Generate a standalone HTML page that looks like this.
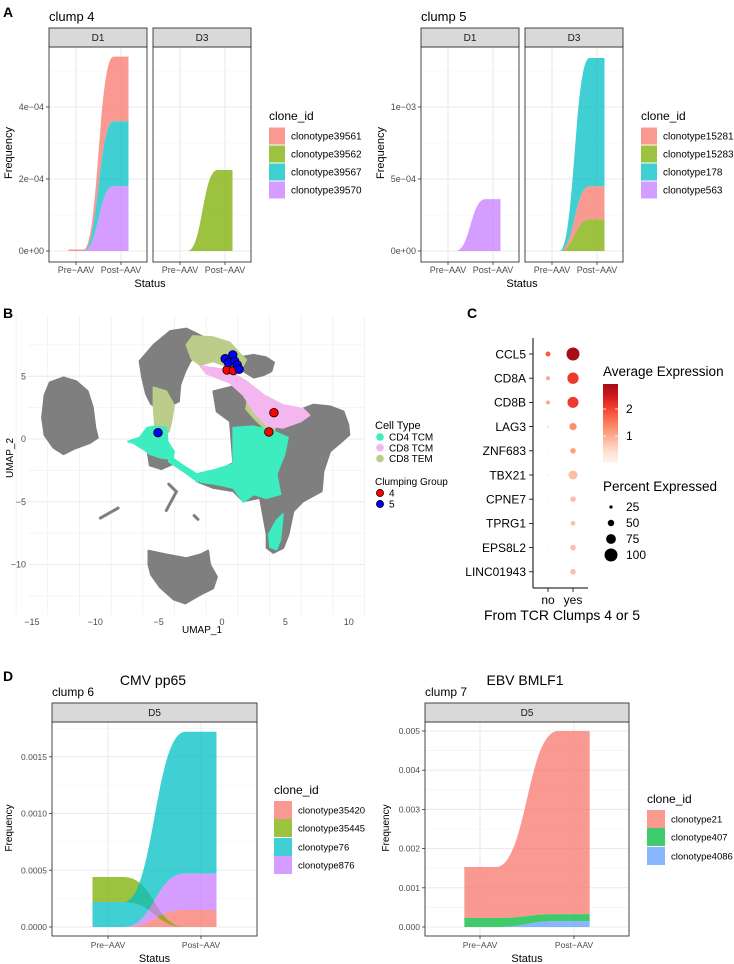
<!DOCTYPE html>
<html><head><meta charset="utf-8"><style>
html,body{margin:0;padding:0;background:#fff;}
svg{display:block;font-family:"Liberation Sans",sans-serif;}
</style></head><body>
<svg id="fig" width="734" height="964" viewBox="0 0 734 964" xmlns="http://www.w3.org/2000/svg"></svg>
<script>
// ---------- DATA ----------
const c4Clones = ['clonotype39561','clonotype39562','clonotype39567','clonotype39570'];
const c4D1Pre = [0.000004,0,0,0];
const c4D1Post = [0.00018,0,0.00018,0.00018];
const c4D3Pre = [0,0,0,0];
const c4D3Post = [0,0.000225,0,0];
const c4Order = [3,2,1,0];
const c4Ticks = [0,0.0002,0.0004];
const c4TickLabels = ['0e+00','2e\u221204','4e\u221204'];

const c5Clones = ['clonotype15281','clonotype15283','clonotype178','clonotype563'];
const c5D1Pre = [0,0,0,0];
const c5D1Post = [0,0,0,0.00036];
const c5D3Pre = [0,0,0,0];
const c5D3Post = [0.00023,0.00022,0.00089,0];
const c5Order = [3,1,0,2];
const c5Ticks = [0,0.0005,0.001];
const c5TickLabels = ['0e+00','5e\u221204','1e\u221203'];

const c6Clones = ['clonotype35420','clonotype35445','clonotype76','clonotype876'];
const c6Pre = [0,0.00022,0.00022,0];
const c6Post = [0.00015,0,0.00125,0.00032];
const c6PreOrder = [0,3,2,1];
const c6PostOrder = [1,0,3,2];
const c6Ticks = [0,0.0005,0.001,0.0015];
const c6TickLabels = ['0.0000','0.0005','0.0010','0.0015'];

const c7Clones = ['clonotype21','clonotype407','clonotype4086'];
const c7Pre = [0.0013,0.00023,0];
const c7Post = [0.00467,0.00018,0.00015];
const c7Order = [2,1,0];
const c7Ticks = [0,0.001,0.002,0.003,0.004,0.005];
const c7TickLabels = ['0.000','0.001','0.002','0.003','0.004','0.005'];

const statusCats = ['Pre\u2212AAV','Post\u2212AAV'];

const genes = ['CCL5','CD8A','CD8B','LAG3','ZNF683','TBX21','CPNE7','TPRG1','EPS8L2','LINC01943'];
const groups = ['no','yes'];
const pctNo = [38,30,30,15,10,12,9,8,9,8];
const pctYes = [100,87,85,56,43,69,43,36,43,43];
const avgNo = [1.8,1.1,1.1,0.6,0.4,0.4,0.4,0.4,0.4,0.4];
const avgYes = [2.93,2.1,2.1,1.3,1.1,0.8,0.8,0.8,0.8,0.8];
const pctLegend = [25,50,75,100];

const umapTicksX = [-15,-10,-5,0,5,10];
const umapTicksY = [5,0,-5,-10];
const clump4Pts = [[3.7,0.56],[4.1,2.1],[0.4,5.5],[0.9,5.45]];
const clump5Pts = [[-5.05,0.5],[0.25,6.4],[0.85,6.7],[0.5,6.1],[1.0,6.2],[1.2,5.9],[1.35,5.55]];
const blobGray = [
 [[-13.6,4.5],[-12.5,4.9],[-11.5,4.6],[-10.6,3.8],[-10.2,2.5],[-10.0,0.9],[-9.8,0.1],[-10.4,-0.3],[-11.7,-0.8],[-12.5,-1.2],[-13.3,-0.7],[-14.0,0.3],[-14.2,1.7],[-14.0,3.5]],
 [[-5.8,-8.9],[-4.4,-9.2],[-2.8,-9.5],[-1.7,-9.2],[-1.1,-8.9],[-0.95,-10.0],[-0.4,-11.0],[-0.7,-11.9],[-1.7,-12.4],[-2.9,-13.1],[-3.8,-12.8],[-4.9,-11.8],[-5.6,-10.8],[-5.8,-10.0]],
 [[-6.5,6.2],[-5.4,7.5],[-4.1,8.6],[-2.8,8.8],[-2.0,8.4],[-1.2,8.0],[-0.7,7.8],[-0.4,7.2],[-1.7,7.0],[-2.5,6.2],[-2.9,5.4],[-3.3,4.3],[-3.4,3.0],[-4.2,2.6],[-5.0,2.4],[-5.6,2.8],[-6.0,3.6],[-6.3,4.9]],
 [[1.4,6.5],[2.5,6.7],[3.5,6.5],[4.1,6.1],[3.9,5.4],[3.3,5.1],[2.5,4.9],[1.7,5.4]],
 [[-0.68,3.79],[0.89,4.19],[2.08,3.79],[3.26,2.73],[4.84,2.33],[6.16,2.33],[7.21,2.73],[8.53,2.6],[9.58,2.2],[9.97,1.14],[10.05,0.34],[9.32,-0.32],[8.53,-0.98],[8.0,-2.57],[7.87,-4.16],[6.42,-4.96],[5.63,-5.76],[5.24,-7.61],[4.84,-8.67],[4.05,-9.07],[3.53,-8.67],[3.53,-7.61],[3.0,-4.69],[1.68,-4.96],[0.89,-4.16],[-0.68,-3.9],[-2.0,-3.37],[-1.74,-2.84],[-0.42,-2.57],[0.89,-1.91],[0.76,-0.19],[0.63,1.41],[-0.42,2.2]],
 [[-5.9,-0.8],[-4.2,-0.9],[-3.9,-2.0],[-4.8,-2.4],[-5.7,-2.1]]
];
const blobGreen = [
 [[-5.4,4.1],[-4.4,3.8],[-3.8,2.7],[-4.0,1.4],[-4.2,0.6],[-5.2,0.3],[-5.3,1.4],[-5.4,2.7]],
 [[-2.3,8.2],[-0.7,8.1],[0.6,7.7],[1.4,6.8],[1.9,6.3],[1.4,5.4],[0.4,5.8],[-0.7,6.2],[-1.7,5.9],[-2.4,6.4],[-2.8,7.5]],
 [[2.1,3.5],[3.3,2.7],[4.3,1.4],[4.1,0.6],[3.3,0.9],[2.5,1.7],[1.9,2.4]]
];
const blobPink = [
 [[-1.7,5.8],[0.4,5.5],[1.9,4.6],[3.3,3.5],[4.8,2.7],[6.4,2.4],[6.9,1.9],[6.2,1.4],[4.8,0.9],[3.5,1.1],[2.5,2.2],[1.7,3.5],[0.6,4.5],[-1.2,5.2]]
];
const blobCyan = [
 [[0.9,0.9],[2.5,1.0],[4.1,0.6],[5.2,0.1],[4.9,-1.3],[4.3,-2.8],[4.6,-4.4],[3.5,-4.7],[2.5,-4.4],[1.7,-5.0],[0.9,-3.9],[-0.4,-3.6],[-1.7,-3.4],[-2.0,-2.8],[-0.7,-2.5],[0.9,-2.0],[0.9,-0.7]],
 [[-5.9,0.9],[-5.2,1.0],[-4.4,0.9],[-4.3,-0.2],[-3.8,-1.0],[-3.9,-1.6],[-4.8,-1.5],[-5.7,-1.2],[-5.9,-1.0],[-7.0,-0.3],[-7.4,-0.2],[-6.5,0.1]],
 [[-4.1,-1.4],[-2.8,-2.3],[-1.7,-3.0],[-1.9,-3.4],[-3.0,-2.6],[-4.2,-1.8]],
 [[4.3,-6.5],[4.8,-6.0],[4.6,-8.0],[4.3,-8.8],[3.8,-8.6],[3.7,-7.6]]
];
const sticks = [[[-9.6,-6.3],[-8.2,-5.5]],[[-4.2,-3.6],[-3.6,-4.2],[-4.4,-5.7]],[[-2.2,-6.1],[-1.9,-6.4]]];

// ---------- HELPERS ----------
const NS='http://www.w3.org/2000/svg';
const svg=document.getElementById('fig');
function mk(parent,tag,attrs,text){const e=document.createElementNS(NS,tag);for(const k in attrs)e.setAttribute(k,attrs[k]);if(text!==undefined)e.textContent=text;parent.appendChild(e);return e;}
function txt(parent,x,y,s,size,anchor,fill,extra){const a={x:x,y:y,'font-size':size,'text-anchor':anchor||'start',fill:fill||'#000'};if(extra)for(const k in extra)a[k]=extra[k];return mk(parent,'text',a,s);}
const pal4=['#F8766D','#7CAE00','#00BFC4','#C77CFF'];
const pal3=['#F8766D','#00BA38','#619CFF'];

function stackOf(vals,order){const lo=[],hi=[];let acc=0;order.forEach(i=>{lo[i]=acc;acc+=vals[i];hi[i]=acc;});return {lo,hi};}

function panelFrame(g,p){
  const bg=mk(g,'rect',{x:p.x,y:p.plotY,width:p.w,height:p.plotH,fill:'#fff'});
  
  
  p.minor.forEach(v=>{const y=p.y0-v*p.k;if(y>p.plotY&&y<p.plotY+p.plotH){const l=mk(g,'line',{x1:p.x,x2:p.x+p.w,y1:y,y2:y,stroke:'#F2F2F2','stroke-width':0.6});}});
  p.ticks.forEach(v=>{const y=p.y0-v*p.k;const l=mk(g,'line',{x1:p.x,x2:p.x+p.w,y1:y,y2:y,stroke:'#EBEBEB','stroke-width':1.1});});
  [p.xPre,p.xPost].forEach(x=>{const l=mk(g,'line',{x1:x,x2:x,y1:p.plotY,y2:p.plotY+p.plotH,stroke:'#EBEBEB','stroke-width':1.1});});
}
function panelBorder(g,p){
  const b=mk(g,'rect',{x:p.x,y:p.plotY,width:p.w,height:p.plotH,fill:'none',stroke:'#333','stroke-width':0.9});
  
  
  const s=mk(g,'rect',{x:p.x,y:p.stripY,width:p.w,height:p.plotY-p.stripY,fill:'#D9D9D9',stroke:'#333','stroke-width':0.9});
  
  
  const st=txt(g,p.x+p.w/2,(p.stripY+p.plotY)/2+3.5,p.label,p.stripSize||10,'middle','#1A1A1A');
  
  
  const bot=p.plotY+p.plotH;
  [p.xPre,p.xPost].forEach((x,i)=>{mk(g,'line',{x1:x,x2:x,y1:bot,y2:bot+3,stroke:'#333','stroke-width':0.8});
    const t=txt(g,x,bot+(p.xlabOff||11),statusCats[i],p.tickSize||9,'middle','#4D4D4D');
    
    });
  if(p.showY){p.ticks.forEach((v,i)=>{const y=p.y0-v*p.k;mk(g,'line',{x1:p.x-3,x2:p.x,y1:y,y2:y,stroke:'#333','stroke-width':0.8});
    const t=txt(g,p.x-5,y+3,p.tickLabels[i],p.tickSize||9,'end','#4D4D4D');
    
    });}
}
function flows(g,p,pre,post,preOrder,postOrder,colors,names){
  const a=stackOf(pre,preOrder),b=stackOf(post,postOrder);
  const w=(p.xPost-p.xPre)/6;const x0=p.xPre+w,x1=p.xPost-w,xm=(x0+x1)/2;
  const Y=v=>p.y0-v*p.k;
  pre.forEach((_,i)=>{
    if(pre[i]===0&&post[i]===0)return;
    const d='M'+(p.xPre-w)+','+Y(a.lo[i])+' L'+x0+','+Y(a.lo[i])+' C'+xm+','+Y(a.lo[i])+' '+xm+','+Y(b.lo[i])+' '+x1+','+Y(b.lo[i])+' L'+(p.xPost+w)+','+Y(b.lo[i])+' L'+(p.xPost+w)+','+Y(b.hi[i])+' L'+x1+','+Y(b.hi[i])+' C'+xm+','+Y(b.hi[i])+' '+xm+','+Y(a.hi[i])+' '+x0+','+Y(a.hi[i])+' L'+(p.xPre-w)+','+Y(a.hi[i])+' Z';
    const f=mk(g,'path',{d:d,fill:colors[i],'fill-opacity':0.75});
    
    
  });
}
function legend(g,x,titleY,rowYs,colors,names,keyW,keyH,labSize){
  const t=txt(g,x,titleY+4,'clone_id',12,'start','#000');
  
  
  names.forEach((n,i)=>{
    const r=mk(g,'rect',{x:x,y:rowYs[i]-keyH/2,width:keyW,height:keyH,fill:colors[i],'fill-opacity':0.75});
    
    
    const l=txt(g,x+keyW+6,rowYs[i]+3.5,n,labSize,'start','#000');
    
    
  });
}
function label(g,x,y,s,size,anchor,weight,name){const t=txt(g,x,y,s,size,anchor,'#000',weight?{'font-weight':weight}:null);return t;}
function vlabel(g,x,y,s,size,name){const t=mk(g,'text',{x:0,y:0,'font-size':size,'text-anchor':'middle',fill:'#000',transform:'translate('+x+','+y+') rotate(-90)'},s);}

// ---------- PANEL A ----------
const gA=mk(svg,'g',{});


label(gA,3,17,'A',14,'start','bold','panel-letter-a');
function clumpA(ox,title,facets,ticks,tickLabels,k,minor,clones,legX){
  label(gA,ox,21,title,13,'start',null,'clump-title');
  facets.forEach((f,fi)=>{
    const p={x:f.x,w:98,stripY:28,plotY:47,plotH:215,label:f.label,y0:251,k:k,ticks:ticks,minor:minor,xPre:f.x+27,xPost:f.x+72,showY:fi===0,tickLabels:tickLabels};
    panelFrame(gA,p);flows(gA,p,f.pre,f.post,f.order,f.order,pal4,clones);panelBorder(gA,p);
  });
  vlabel(gA,ox-37,153,'Frequency',11,'y-axis-title');
  label(gA,(facets[0].x+facets[1].x+98)/2,287,'Status',11,'middle',null,'x-axis-title');
  legend(gA,legX,116,[136,154,172,190],pal4,clones,16,17,10);
}
clumpA(49,'clump 4',[{x:49,label:'D1',pre:c4D1Pre,post:c4D1Post,order:c4Order},{x:153,label:'D3',pre:c4D3Pre,post:c4D3Post,order:c4Order}],c4Ticks,c4TickLabels,360000,[0.0001,0.0003,0.0005],c4Clones,269);
clumpA(421,'clump 5',[{x:421,label:'D1',pre:c5D1Pre,post:c5D1Post,order:c5Order},{x:525,label:'D3',pre:c5D3Pre,post:c5D3Post,order:c5Order}],c5Ticks,c5TickLabels,144000,[0.00025,0.00075,0.00125],c5Clones,641);

// ---------- PANEL B (UMAP) ----------
const gB=mk(svg,'g',{});


label(gB,3,318,'B',14,'start','bold','panel-letter-b');
const ux=v=>222+v*12.67, uy=v=>439-v*12.55;
for(let v=-16.25;v<=11.5;v+=2.5){const l=mk(gB,'line',{x1:ux(v),x2:ux(v),y1:315,y2:615,stroke:'#EBEBEB','stroke-width':(Math.abs(v%5)<0.01)?1:0.6});}
for(let v=-12.5;v<=7.5;v+=2.5){const l=mk(gB,'line',{x1:28,x2:364,y1:uy(v),y2:uy(v),stroke:'#EBEBEB','stroke-width':(Math.abs(v%5)<0.01)?1:0.6});}
function poly(pts,fill,name){const d=pts.map((p,i)=>(i?'L':'M')+ux(p[0]).toFixed(1)+','+uy(p[1]).toFixed(1)).join(' ')+'Z';const e=mk(gB,'path',{d:d,fill:fill,stroke:fill,'stroke-width':2,'stroke-linejoin':'round'});}
blobGray.forEach(p=>poly(p,'#7F7F7F','umap-cluster-gray'));
sticks.forEach(s=>{const e=mk(gB,'polyline',{points:s.map(p=>ux(p[0])+','+uy(p[1])).join(' '),fill:'none',stroke:'#7F7F7F','stroke-width':3,'stroke-linecap':'round'});});
blobGreen.forEach(p=>poly(p,'#BCCC8A','umap-cd8-tem-region'));
blobPink.forEach(p=>poly(p,'#F3B6EF','umap-cd8-tcm-region'));
blobCyan.forEach(p=>poly(p,'#3DEDC0','umap-cd4-tcm-region'));
clump4Pts.forEach(p=>{const c=mk(gB,'circle',{cx:ux(p[0]),cy:uy(p[1]),r:4.3,fill:'#FF0000',stroke:'#000','stroke-width':0.8});});
clump5Pts.forEach(p=>{const c=mk(gB,'circle',{cx:ux(p[0]),cy:uy(p[1]),r:4.3,fill:'#0000FF',stroke:'#000','stroke-width':0.8});});
umapTicksX.forEach(v=>{const t=txt(gB,ux(v),625,String(v).replace('-','\u2212'),9,'middle','#4D4D4D');});
umapTicksY.forEach(v=>{const t=txt(gB,26,uy(v)+3,String(v).replace('-','\u2212'),9,'end','#4D4D4D');});
label(gB,202,633,'UMAP_1',10,'middle',null,'umap-x-title');
vlabel(gB,13,458,'UMAP_2',10,'umap-y-title');
label(gB,375,429,'Cell Type',11,'start',null,'cell-type-legend-title');
[['CD4 TCM','#3DEDC0'],['CD8 TCM','#F3B6EF'],['CD8 TEM','#BCCC8A']].forEach((c,i)=>{const y=437+i*10.8;const d=mk(gB,'circle',{cx:380,cy:y,r:3.8,fill:c[1]});const t=txt(gB,389,y+3.5,c[0],10,'start','#000');});
label(gB,375,485,'Clumping Group',10,'start',null,'clumping-legend-title');
[['4','#FF0000'],['5','#0000FF']].forEach((c,i)=>{const y=493+i*11;const d=mk(gB,'circle',{cx:380,cy:y,r:3.6,fill:c[1],stroke:'#000','stroke-width':0.7});const t=txt(gB,389,y+3.5,c[0],10,'start','#000');});

// ---------- PANEL C (dot plot) ----------
const gC=mk(svg,'g',{});


label(gC,467,318,'C',14,'start','bold','panel-letter-c');
const reds=['#FFF5F0','#FEE0D2','#FCBBA1','#FC9272','#FB6A4A','#EF3B2C','#CB181D','#A50F15'];
const avgMax=2.93;
function hex(c){return [1,3,5].map(i=>parseInt(c.substr(i,2),16));}
function col(v){const t=Math.max(0,Math.min(1,v/avgMax))*(reds.length-1);const i=Math.min(reds.length-2,Math.floor(t));const f=t-i;const a=hex(reds[i]),b=hex(reds[i+1]);return 'rgb('+a.map((x,j)=>Math.round(x+(b[j]-x)*f)).join(',')+')';}
const gy=i=>354+i*24.2;
const gx=j=>548+j*25;
const rad=p=>6.5*p/100;
mk(gC,'line',{x1:533,x2:533,y1:338,y2:588,stroke:'#000','stroke-width':1});
mk(gC,'line',{x1:533,x2:588,y1:588,y2:588,stroke:'#000','stroke-width':1});
genes.forEach((g,i)=>{mk(gC,'line',{x1:529,x2:533,y1:gy(i),y2:gy(i),stroke:'#000','stroke-width':0.8});const t=txt(gC,526,gy(i)+4.3,g,12,'end','#000');});
groups.forEach((g,j)=>{mk(gC,'line',{x1:gx(j),x2:gx(j),y1:588,y2:592,stroke:'#000','stroke-width':0.8});const t=txt(gC,gx(j),604,g,12,'middle','#000');});
genes.forEach((g,i)=>{
  const c1=mk(gC,'circle',{cx:gx(0),cy:gy(i),r:rad(pctNo[i]),fill:col(avgNo[i])});
  
  
  const c2=mk(gC,'circle',{cx:gx(1),cy:gy(i),r:rad(pctYes[i]),fill:col(avgYes[i])});
  
  
});
label(gC,562,620,'From TCR Clumps 4 or 5',14,'middle',null,'c-x-axis-title');
label(gC,603,376,'Average Expression',13.5,'start',null,'avg-expression-legend-title');
const defs=mk(svg,'defs',{});
const lg=mk(defs,'linearGradient',{id:'cbar',x1:0,y1:1,x2:0,y2:0});
reds.forEach((c,i)=>mk(lg,'stop',{offset:(i/(reds.length-1)),'stop-color':c}));
const cb=mk(gC,'rect',{x:603,y:384,width:15,height:79,fill:'url(#cbar)'});


[1,2].forEach(v=>{const y=463-v*27;mk(gC,'line',{x1:603,x2:606,y1:y,y2:y,stroke:'#fff','stroke-width':0.8});mk(gC,'line',{x1:615,x2:618,y1:y,y2:y,stroke:'#fff','stroke-width':0.8});const t=txt(gC,626,y+4,String(v),12,'start','#000');});
label(gC,603,491,'Percent Expressed',13.5,'start',null,'pct-expressed-legend-title');
pctLegend.forEach((p,i)=>{const y=507+i*16;const c=mk(gC,'circle',{cx:611,cy:y,r:rad(p),fill:'#000'});const t=txt(gC,626,y+4,String(p),12,'start','#000');});

// ---------- PANEL D ----------
const gD=mk(svg,'g',{});


label(gD,3,681,'D',14,'start','bold','panel-letter-d');
function clumpD(cfg){
  label(gD,cfg.titleX,685,cfg.title,14,'middle',null,'epitope-title');
  label(gD,cfg.x,696,cfg.clump,12,'start',null,'clump-title');
  const p={x:cfg.x,w:cfg.w,stripY:703,plotY:722,plotH:214,label:'D5',y0:927,k:cfg.k,ticks:cfg.ticks,minor:cfg.minor,xPre:cfg.xPre,xPost:cfg.xPost,showY:true,tickLabels:cfg.tickLabels,tickSize:8.5,xlabOff:12};
  panelFrame(gD,p);flows(gD,p,cfg.pre,cfg.post,cfg.preOrder,cfg.postOrder,cfg.colors,cfg.clones);panelBorder(gD,p);
  vlabel(gD,cfg.freqX,828,'Frequency',10,'y-axis-title');
  label(gD,cfg.x+cfg.w/2,962,'Status',11,'middle',null,'x-axis-title');
  legend(gD,cfg.legX,cfg.legTitleY,cfg.legRows,cfg.colors,cfg.clones,18,18,9.5);
}
clumpD({x:52,w:205,title:'CMV pp65',titleX:153,clump:'clump 6',k:113500,ticks:c6Ticks,tickLabels:c6TickLabels,minor:[0.00025,0.00075,0.00125,0.00175],xPre:108,xPost:201,pre:c6Pre,post:c6Post,preOrder:c6PreOrder,postOrder:c6PostOrder,colors:pal4,clones:c6Clones,freqX:12,legX:274,legTitleY:790,legRows:[810,828,847,865]});
clumpD({x:425,w:204,title:'EBV BMLF1',titleX:525,clump:'clump 7',k:39200,ticks:c7Ticks,tickLabels:c7TickLabels,minor:[0.0005,0.0015,0.0025,0.0035,0.0045],xPre:480,xPost:574,pre:c7Pre,post:c7Post,preOrder:c7Order,postOrder:c7Order,colors:pal3,clones:c7Clones,freqX:389,legX:647,legTitleY:799,legRows:[819,837,856]});
</script>
</body></html>
